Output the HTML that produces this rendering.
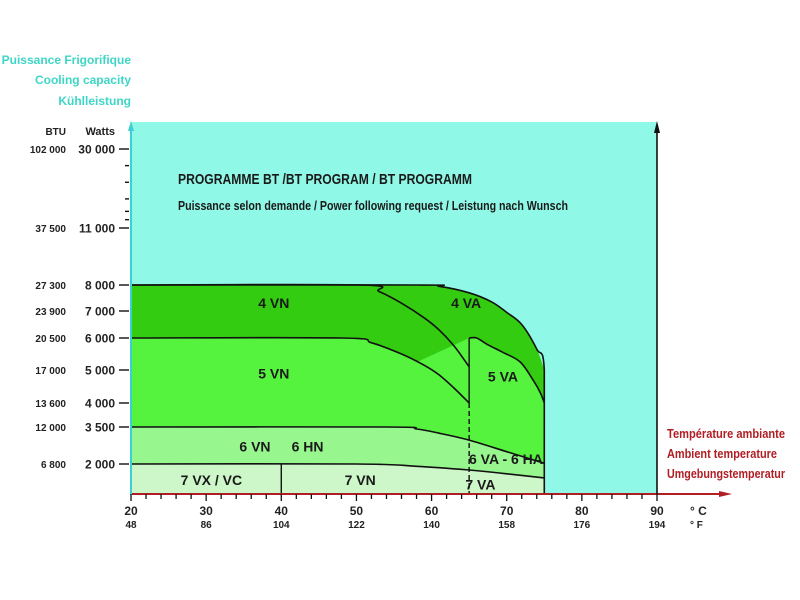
<!DOCTYPE html>
<html><head><meta charset="utf-8"><style>
html,body{margin:0;padding:0;background:#fff;}
svg{display:block;font-family:"Liberation Sans",sans-serif;}
</style></head><body>
<svg id="chart" width="800" height="600" viewBox="0 0 800 600">
<g id="bg"></g>
<g id="areas"></g>
<g id="lines"></g>
<g id="axes"></g>
<g id="labels"></g>
</svg>
<script>
// ----- data -----
const tempTicksC = [20,30,40,50,60,70,80,90];
const tempTicksF = [48,86,104,122,140,158,176,194];
const wattTicks = [30000,11000,8000,7000,6000,5000,4000,3500,2000];
const wattLabels = ["30 000","11 000","8 000","7 000","6 000","5 000","4 000","3 500","2 000"];
const btuLabels = ["102 000","37 500","27 300","23 900","20 500","17 000","13 600","12 000","6 800"];
const minorWattTicks = [26000,22000,18000,15000,13000];
// boundary curves [°C, watts]
const outerCurve = [[20,8000],[58,8000],[61,7950],[65,7700],[68,7350],[70,6950],[72,6500],[74,5650],[75,5000],[75,0]];
const curve4VN = [[20,8000],[50.5,8000],[53,7750],[56,7300],[59,6750],[61,6300],[63,5750],[65,5100]];
const curve5VN = [[20,6000],[48,6000],[52,5850],[56,5500],[59,5150],[61,4850],[63,4450],[65,4000]];
const curve5VA = [[65,6000],[66,6000],[67.4,5800],[69.5,5550],[71.8,5250],[73.5,4700],[74.5,4300],[75,4000]];
const curve6 = [[20,3500],[54,3500],[58,3420],[61,3250],[65,2970],[70,2500],[75,2030]];
const curve7 = [[20,2000],[50,2000],[58,1850],[65,1600],[70,1350],[75,1070]];
const regionLabels = ["4 VN","4 VA","5 VN","5 VA","6 VN","6 HN","6 VA - 6 HA","7 VX / VC","7 VN","7 VA"];
const regionLabelX = [39,64.6,39,69.5,36.5,43.5,69.9,30.7,50.5,66.5];
const regionLabelW = [7300,7300,4900,4800,2700,2700,2200,950,950,650];
const dividerTemp = 40, dashedTemp = 65;

// ----- scales -----
const X0=131, XPX=(657-131)/70;
function xs(c){return X0+(c-20)*XPX;}
const scaleW=[0,2000,3500,4000,5000,6000,7000,8000,11000,30000];
const scaleY=[494,464,427,403,370,338,311,285,228,149];
function ys(w){
  for(let i=0;i<scaleW.length-1;i++){
    if(w<=scaleW[i+1]){const t=(w-scaleW[i])/(scaleW[i+1]-scaleW[i]);return scaleY[i]+t*(scaleY[i+1]-scaleY[i]);}
  }
  return scaleY[scaleY.length-1];
}
const NS="http://www.w3.org/2000/svg";
function mk(tag,attrs,parent){const e=document.createElementNS(NS,tag);for(const k in attrs)e.setAttribute(k,attrs[k]);document.getElementById(parent).appendChild(e);return e;}
function pts(arr){return arr.map(p=>xs(p[0]).toFixed(1)+","+ys(p[1]).toFixed(1));}
function curvePath(arr){
  // smooth catmull-rom
  const P=arr.map(p=>[xs(p[0]),ys(p[1])]);
  let d="M"+P[0][0]+","+P[0][1];
  for(let i=0;i<P.length-1;i++){
    const p0=P[Math.max(0,i-1)],p1=P[i],p2=P[i+1],p3=P[Math.min(P.length-1,i+2)];
    if(p1[0]===p2[0]){d+=" L"+p2[0]+","+p2[1];continue;}
    const c1=[p1[0]+(p2[0]-p0[0])/6,p1[1]+(p2[1]-p0[1])/6];
    const c2=[p2[0]-(p3[0]-p1[0])/6,p2[1]-(p3[1]-p1[1])/6];
    d+=` C${c1[0].toFixed(1)},${c1[1].toFixed(1)} ${c2[0].toFixed(1)},${c2[1].toFixed(1)} ${p2[0].toFixed(1)},${p2[1].toFixed(1)}`;
  }
  return d;
}
const yAxis=ys(0);
// background
let e=mk("rect",{x:131,y:122,width:526,height:372,fill:"#8ff8e6"},"bg");



function area(curve,endTemp,fill,name){
  const d=curvePath(curve)+` L${xs(endTemp)},${yAxis} L${xs(20)},${yAxis} Z`;
  const p=mk("path",{d:d,fill:fill},"areas");
  
  
}
area(outerCurve.slice(0,-1),75,"#33cc11","area-4-series");
area(curve5VN,65,"#55f23e","area-5vn");
area(curve5VA,75,"#55f23e","area-5va");
// 5VA left edge fill
e=mk("rect",{x:xs(65),y:ys(4000),width:3,height:yAxis-ys(4000),fill:"#55f23e"},"areas");


area(curve6,75,"#98f68e","area-6-series");
area(curve7,75,"#cdf7c8","area-7-series");

function line(curve,name){
  const p=mk("path",{d:curvePath(curve),fill:"none",stroke:"#111","stroke-width":1.6},"lines");
  
  
}
line(outerCurve,"outer-boundary");
line(curve4VN,"4vn-boundary");
line(curve5VN,"5vn-boundary");
line(curve5VA,"5va-boundary");
line(curve6,"6-boundary");
line(curve7,"7-boundary");
e=mk("line",{x1:xs(dividerTemp),y1:ys(2000),x2:xs(dividerTemp),y2:yAxis,stroke:"#111","stroke-width":1.4},"lines");


e=mk("line",{x1:xs(dashedTemp),y1:ys(4000),x2:xs(dashedTemp),y2:yAxis,stroke:"#111","stroke-width":1.4,"stroke-dasharray":"5,3"},"lines");


e=mk("line",{x1:xs(dashedTemp),y1:ys(6000),x2:xs(dashedTemp),y2:ys(4000),stroke:"#111","stroke-width":1.4},"lines");



// axes
e=mk("line",{x1:131,y1:yAxis,x2:722,y2:yAxis,stroke:"#b01e24","stroke-width":2},"axes");


e=mk("polygon",{points:`732,${yAxis} 719,${yAxis-3} 719,${yAxis+3}`,fill:"#b01e24"},"axes");


e=mk("line",{x1:131,y1:yAxis+1,x2:131,y2:128,stroke:"#3dd0d0","stroke-width":2},"axes");


e=mk("polygon",{points:"131,121 128,131 134,131",fill:"#3dd0d0"},"axes");


e=mk("line",{x1:657,y1:yAxis,x2:657,y2:130,stroke:"#111","stroke-width":1.6},"axes");


e=mk("polygon",{points:"657,121 654,133 660,133",fill:"#111"},"axes");


for(let c=20;c<=90;c+=2){
  e=mk("line",{x1:xs(c),y1:yAxis,x2:xs(c),y2:yAxis+(c%10===0?7:5),stroke:"#111","stroke-width":1.3},"axes");
  
  
}
tempTicksC.forEach((c,i)=>{
  e=mk("text",{x:xs(c),y:515,"font-size":12,"font-weight":"bold","text-anchor":"middle",fill:"#222"},"labels");
  e.textContent=c;
  
  
  e=mk("text",{x:xs(c),y:528,"font-size":10,"font-weight":"bold","text-anchor":"middle",fill:"#222"},"labels");
  e.textContent=tempTicksF[i];
  
  
});
e=mk("text",{x:690,y:515,"font-size":12,"font-weight":"bold",fill:"#222"},"labels");e.textContent="° C";


e=mk("text",{x:690,y:528,"font-size":10,"font-weight":"bold",fill:"#222"},"labels");e.textContent="° F";



wattTicks.forEach((w,i)=>{
  const y=ys(w);
  e=mk("line",{x1:119,y1:y,x2:129,y2:y,stroke:"#111","stroke-width":1.4},"axes");
  
  
  e=mk("text",{x:115,y:y+4.5,"font-size":12,"font-weight":"bold","text-anchor":"end",fill:"#222"},"labels");
  e.textContent=wattLabels[i];
  
  
  e=mk("text",{x:66,y:y+4,"font-size":10,"font-weight":"bold","text-anchor":"end",fill:"#222"},"labels");
  e.textContent=btuLabels[i];
  
  
});
minorWattTicks.forEach(w=>{
  const y=ys(w);
  e=mk("line",{x1:125,y1:y,x2:129,y2:y,stroke:"#111","stroke-width":1.4},"axes");
  
  
});

regionLabels.forEach((t,i)=>{
  e=mk("text",{x:xs(regionLabelX[i]),y:ys(regionLabelW[i])+5,"font-size":14,"font-weight":"bold","text-anchor":"middle",fill:"#1a1a1a"},"labels");
  e.textContent=t;
  
  
});
</script>
<svg width="0" height="0" style="position:absolute"></svg>
<div style="position:absolute;left:0;top:0;width:800px;height:600px;pointer-events:none">
<svg width="800" height="600" style="font-family:'Liberation Sans',sans-serif">
<g fill="#3ed6c6" font-weight="bold" font-size="12" text-anchor="end">
<text x="131" y="64">Puissance Frigorifique</text>
<text x="131" y="84">Cooling capacity</text>
<text x="131" y="105">Kühlleistung</text>
</g>
<text x="66" y="135" font-size="10" font-weight="bold" text-anchor="end" fill="#222">BTU</text>
<text x="115" y="135" font-size="11" font-weight="bold" text-anchor="end" fill="#222">Watts</text>
<text x="178" y="184" font-size="15" font-weight="bold" fill="#1a1a1a" textLength="294" lengthAdjust="spacingAndGlyphs">PROGRAMME BT /BT PROGRAM / BT PROGRAMM</text>
<text x="178" y="210" font-size="12.5" font-weight="bold" fill="#1a1a1a" textLength="390" lengthAdjust="spacingAndGlyphs">Puissance selon demande / Power following request / Leistung nach Wunsch</text>
<g fill="#b01e24" font-weight="bold" font-size="12.5">
<text x="667" y="438" textLength="118" lengthAdjust="spacingAndGlyphs">Température ambiante</text>
<text x="667" y="458" textLength="110" lengthAdjust="spacingAndGlyphs">Ambient temperature</text>
<text x="667" y="478" textLength="118" lengthAdjust="spacingAndGlyphs">Umgebungstemperatur</text>
</g>
</svg>
</div>
</body></html>
